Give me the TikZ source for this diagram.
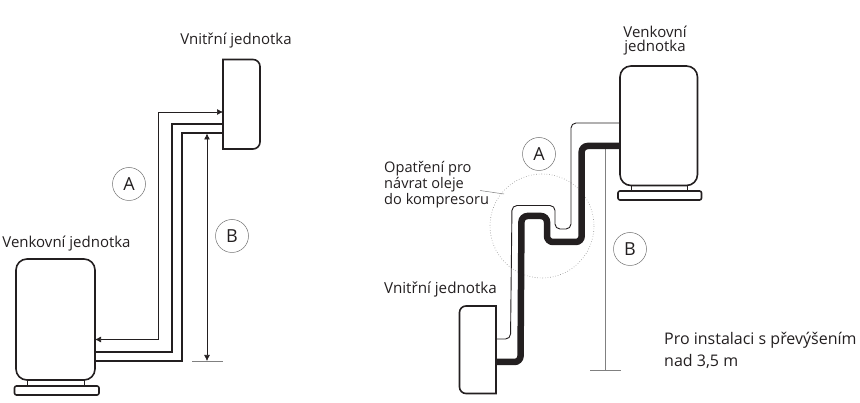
\documentclass[tikz,border=0pt]{standalone}
\usepackage{fontspec}
\setmainfont{Open Sans}
\usetikzlibrary{arrows.meta}
\definecolor{ink}{HTML}{231F20}
\tikzset{
  x=1pt,y=-1pt,
  unit/.style={draw=ink,line width=1.6pt,fill=white},
  neck/.style={draw=ink,line width=1pt},
  pipe/.style={draw=ink,line width=2.2pt},
  thin/.style={draw=ink,line width=.7pt},
  fat/.style={draw=ink,line width=6.5pt,rounded corners=6pt},
  grey/.style={draw=black!50,line width=.7pt},
  tip/.style={-{Latex[length=6pt,width=6pt]}},
  letter/.style={circle,draw=black!55,line width=.5pt,minimum size=33pt,inner sep=0pt,font=\fontsize{18}{18}\selectfont,text=ink},
  lbl/.style={inner sep=0pt,font=\fontsize{15}{16}\selectfont,text=ink},
  lblb/.style={inner sep=0pt,font=\fontsize{15.2}{16}\selectfont,text=ink},
  lblc/.style={inner sep=0pt,font=\fontsize{14.6}{16}\selectfont,text=ink},
  lbld/.style={inner sep=0pt,font=\fontsize{16}{16}\selectfont,text=ink},
}
\begin{document}
\begin{tikzpicture}
\useasboundingbox (0,0) rectangle (860,403);
% ---- left
\coordinate (lin1) at (223,112);
\coordinate (lin2) at (223,124);
\coordinate (lin3) at (223,133);
\coordinate (lout1) at (95,339.5);
\coordinate (lout2) at (95,352);
\coordinate (lout3) at (95,361);
\coordinate (lbt) at (207,361);
\coordinate (lbb) at (207,133.5);
\coordinate (tl1) at (192,361);
\coordinate (tl2) at (223,361);
\draw[thin,{Latex[length=6pt,width=6pt]}-{Latex[length=6pt,width=6pt]}] (lout1) -- (158.5,339.5) -- (158.5,112) -- (lin1);
\draw[pipe] (lin2) -- (172,124) -- (172,352) -- (lout2);
\draw[pipe] (lin3) -- (182,133) -- (182,361) -- (lout3);
\draw[thin,{Latex[length=6pt,width=6pt]}-{Latex[length=6pt,width=6pt]}] (lbb) -- (lbt);
\draw[grey] (tl1) -- (tl2);
\draw[unit] (223,59.5) -- (253,59.5) to[out=0,in=90] (260,66.5) -- (260,142) to[out=-90,in=0] (253,149) -- (223,149) -- cycle;
\draw[neck] (27,380) -- (27,386) (84,380) -- (84,386);
\draw[unit,rounded corners=11pt] (16,259) rectangle (95,380);
\draw[unit,rounded corners=2pt] (14.5,386) rectangle (99,395);
\node[letter] (la) at (129,184) {A};
\node[letter] (lb) at (232,236) {B};
\node[lbl] (t1) at (236,41) {Vnitřní jednotka};
\node[lbl] (t2) at (66.5,244) {Venkovní jednotka};
% ---- right
\draw[black!45,line width=.6pt,dotted] (542,226) circle[radius=52];
\coordinate (rb1) at (605.7,146);
\coordinate (rb2) at (605.7,370);
\draw[grey] (rb1) -- (rb2);
\draw[grey] (590,370) -- (621,370);
\draw[thin,line width=.9pt,rounded corners=5pt] (620,123) -- (571,123) -- (571,229) -- (555,229) -- (555,205.5) -- (512,205.5) -- (510.5,339) -- (496,339);
\draw[fat] (620,146) -- (581.7,146) -- (581.7,242) -- (547,242) -- (547,216) -- (521.5,216) -- (520.5,362) -- (496,362);
\draw[neck] (631,186) -- (631,191) (687,186) -- (687,191);
\draw[unit,rounded corners=11pt] (620,66) rectangle (697.5,185.5);
\draw[unit,rounded corners=2pt] (618,191) rectangle (701.5,200);
\draw[unit] (496,306) -- (466,306) to[out=180,in=90] (459.5,312.5) -- (459.5,387) to[out=-90,in=180] (466,393.5) -- (496,393.5) -- cycle;
\draw[grey,line width=.5pt] (480,190.5) -- (504,194);
\node[letter] (ra) at (539,154) {A};
\node[letter] (rb) at (630,249) {B};
\node[lbl] (t3) at (655,32) {Venkovní};
\node[lbl] (t4) at (655,48) {jednotka};
\node[lblc,anchor=west] (t5) at (384,169) {Opatření pro};
\node[lblc,anchor=west] (t6) at (384,185) {návrat oleje};
\node[lblc,anchor=west] (t7) at (384,201) {do kompresoru};
\node[lblb] (t8) at (440.5,290) {Vnitřní jednotka};
\node[lbld,anchor=west] (t9) at (664,340) {Pro instalaci s převýšením};
\node[lbld,anchor=west] (t10) at (664,361) {nad 3,5 m};
\end{tikzpicture}
\end{document}
